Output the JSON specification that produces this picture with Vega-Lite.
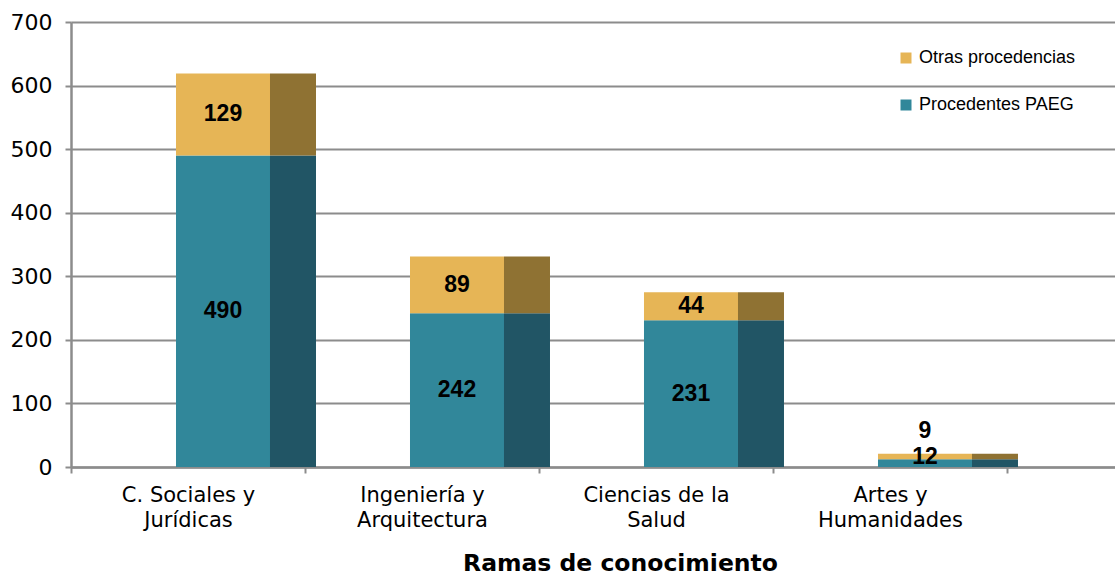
{
  "$schema": "https://vega.github.io/schema/vega-lite/v6.json",
  "width": 1044,
  "height": 445,
  "autosize": {"type": "none"},
  "padding": {"left": 71, "top": 22, "right": 0, "bottom": 108},
  "background": "white",
  "config": {"view": {"stroke": null}},
  "data": {
    "values": [
      {"category": "C. Sociales y Jurídicas", "series": "Procedentes PAEG", "value": 490},
      {"category": "C. Sociales y Jurídicas", "series": "Otras procedencias", "value": 129},
      {"category": "Ingeniería y Arquitectura", "series": "Procedentes PAEG", "value": 242},
      {"category": "Ingeniería y Arquitectura", "series": "Otras procedencias", "value": 89},
      {"category": "Ciencias de la Salud", "series": "Procedentes PAEG", "value": 231},
      {"category": "Ciencias de la Salud", "series": "Otras procedencias", "value": 44},
      {"category": "Artes y Humanidades", "series": "Procedentes PAEG", "value": 12},
      {"category": "Artes y Humanidades", "series": "Otras procedencias", "value": 9}
    ]
  },
  "transform": [
    {"stack": "value", "groupby": ["category"], "sort": [{"field": "series", "order": "descending"}], "as": ["v0", "v1"]},
    {"joinaggregate": [{"op": "sum", "field": "value", "as": "total"}], "groupby": ["category"]},
    {"calculate": "datum.total < 50 ? (datum.series == 'Otras procedencias' ? datum.total + 35 : datum.total - 6) : (datum.v0 + datum.v1) / 2", "as": "ly"}
  ],
  "encoding": {
    "x": {
      "field": "category",
      "type": "nominal",
      "sort": null,
      "scale": {"paddingInner": 0, "paddingOuter": 0.2308, "align": 0},
      "axis": {
        "title": "Ramas de conocimiento",
        "labelExpr": "[slice(datum.label, 0, lastindexof(datum.label, ' ')), slice(datum.label, lastindexof(datum.label, ' ') + 1)]",
        "labelAngle": 0,
        "labelFont": "DejaVu Sans",
        "labelFontSize": 21,
        "labelColor": "#000000",
        "labelPadding": 11,
        "labelLineHeight": 25,
        "tickBand": "extent",
        "tickSize": 6,
        "tickColor": "#8c8c8c",
        "tickWidth": 2,
        "domainColor": "#8c8c8c",
        "domainWidth": 2.5,
        "grid": false,
        "titleFont": "DejaVu Sans",
        "titleFontSize": 23.5,
        "titleFontWeight": "bold",
        "titleColor": "#000000",
        "titleX": 549,
        "titleY": 103,
        "titleBaseline": "alphabetic"
      }
    }
  },
  "layer": [
    {
      "mark": {"type": "bar", "width": 94, "xOffset": 35},
      "encoding": {
        "y": {
          "field": "v0",
          "type": "quantitative",
          "scale": {"domain": [0, 700]},
          "axis": {
            "title": null,
            "values": [0, 100, 200, 300, 400, 500, 600, 700],
            "labelFont": "DejaVu Sans",
            "labelFontSize": 22,
            "labelColor": "#000000",
            "labelPadding": 13,
            "tickSize": 6,
            "tickColor": "#8c8c8c",
            "tickWidth": 2,
            "domainColor": "#8c8c8c",
            "domainWidth": 2.5,
            "grid": true,
            "gridColor": "#8c8c8c",
            "gridWidth": 2
          }
        },
        "y2": {"field": "v1"},
        "color": {
          "field": "series",
          "type": "nominal",
          "scale": {"domain": ["Otras procedencias", "Procedentes PAEG"], "range": ["#E6B556", "#31879A"]},
          "legend": {
            "orient": "none",
            "legendX": 826,
            "legendY": 27,
            "title": null,
            "symbolType": "square",
            "symbolSize": 121,
            "symbolStrokeWidth": 0,
            "symbolOpacity": 1,
            "labelFont": "Liberation Sans",
            "labelFontSize": 18,
            "labelLimit": 300,
            "labelColor": "#000000",
            "labelOffset": 4,
            "rowPadding": 29
          }
        }
      }
    },
    {
      "mark": {"type": "bar", "width": 46, "xOffset": 105},
      "encoding": {
        "y": {"field": "v0", "type": "quantitative"},
        "y2": {"field": "v1"},
        "color": {
          "field": "series",
          "type": "nominal",
          "scale": {"domain": ["Otras procedencias", "Procedentes PAEG"], "range": ["#8F7233", "#215565"]},
          "legend": null
        }
      }
    },
    {
      "mark": {"type": "text", "xOffset": 35, "font": "Liberation Sans", "fontWeight": "bold", "fontSize": 23, "baseline": "middle", "color": "#000000"},
      "encoding": {
        "y": {"field": "ly", "type": "quantitative"},
        "text": {"field": "value", "type": "quantitative"}
      }
    }
  ],
  "resolve": {"scale": {"color": "independent"}}
}
